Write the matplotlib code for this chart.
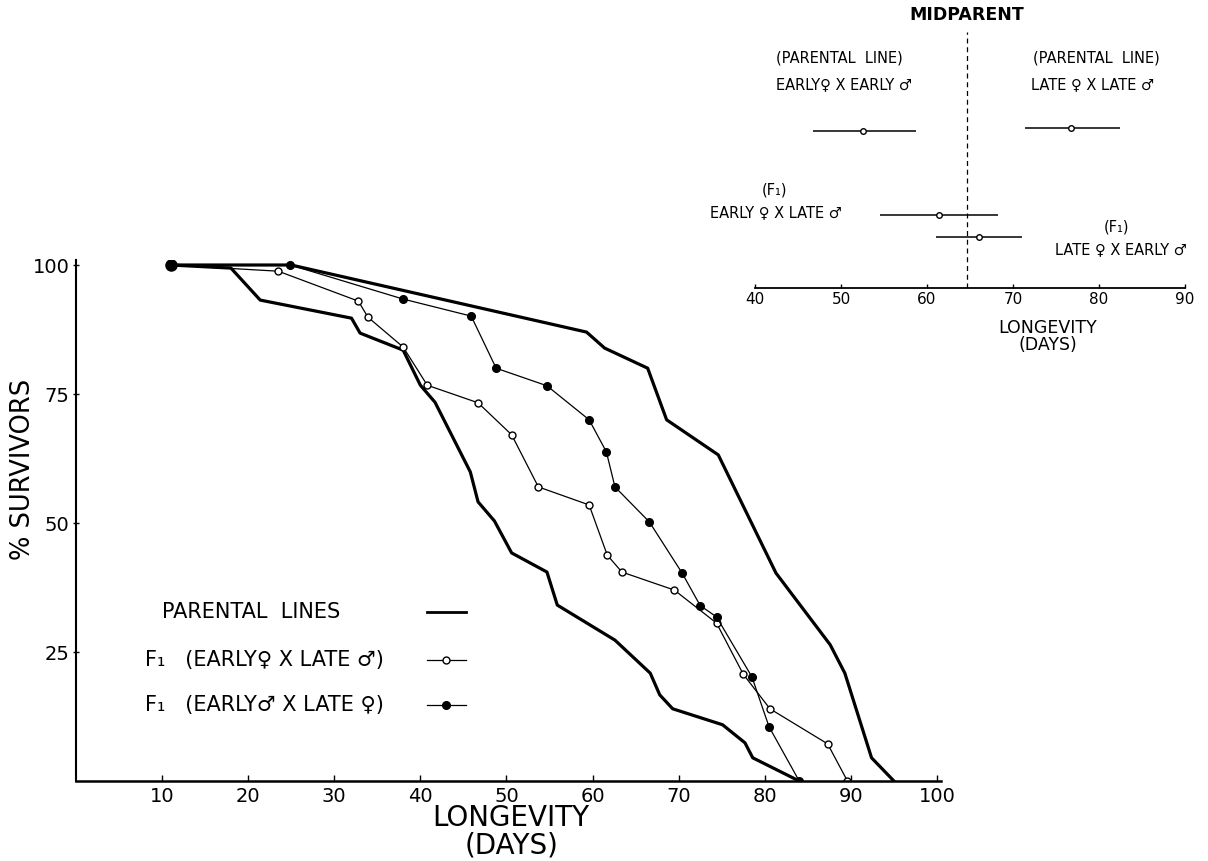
import matplotlib
matplotlib.use('Agg')
import matplotlib.pyplot as plt

plt.rcParams['font.family'] = ['DejaVu Sans']

# --- survival curves (longevity in days, % survivors) ---
early_days = [11, 18, 21.4, 32, 33, 38, 40, 41.7, 45.8, 46.7, 48.6, 50.6, 54.7, 55.9,
              62.6, 66.7, 67.8, 69.3, 75.1, 77.7, 78.6, 84]
early_surv = [100, 99.4, 93.2, 89.7, 86.8, 83.5, 76.7, 73.4, 59.9, 54.1, 50.4, 44.2, 40.5, 34.1,
              27.3, 20.9, 16.7, 14.0, 10.9, 7.4, 4.5, 0]

late_days = [11, 25, 59.3, 61.4, 66.4, 68.6, 74.6, 81.3, 87.6, 89.3, 92.4, 95]
late_surv = [100, 100, 87.0, 83.9, 80.0, 70.0, 63.2, 40.3, 26.4, 20.9, 4.5, 0]

# F1 (early female x late male), open circles
open_days = [11, 23.5, 32.8, 33.9, 38.0, 40.8, 46.7, 50.6, 53.7, 59.6, 61.7, 63.4,
             69.5, 74.4, 77.5, 80.6, 87.3, 89.6]
open_surv = [100, 98.8, 93.0, 89.9, 84.1, 76.7, 73.3, 67.1, 57.0, 53.5, 43.8, 40.5,
             37.0, 30.6, 20.7, 14.0, 7.2, 0]

# F1 (early male x late female), filled circles
filled_days = [11, 24.9, 38.0, 45.9, 48.8, 54.7, 59.6, 61.6, 62.6, 66.6, 70.4, 72.5,
               74.4, 78.5, 80.5, 84]
filled_surv = [100, 100, 93.4, 90.1, 80.0, 76.6, 70.0, 63.8, 57.0, 50.2, 40.3, 34.0,
               31.8, 20.2, 10.5, 0]

x_ticks = [10, 20, 30, 40, 50, 60, 70, 80, 90, 100]
y_ticks = [25, 50, 75, 100]

# --- inset: mean longevity with range ---
inset_means = [52.6, 76.7, 61.4, 66.0]
inset_low = [46.7, 71.4, 54.5, 61.0]
inset_high = [58.7, 82.4, 68.3, 71.0]
midparent = 64.6
inset_ticks = [40, 50, 60, 70, 80, 90]

# row heights of the inset bars (axes fraction)
inset_rows = [0.613, 0.625, 0.285, 0.199]

fig = plt.figure(figsize=(12.08, 8.61), dpi=100)
ax = fig.add_axes([0.0629, 0.0929, 0.7163, 0.6053])

ax.plot(early_days, early_surv, color='k', lw=2.3, solid_joinstyle='round')
ax.plot(late_days, late_surv, color='k', lw=2.3, solid_joinstyle='round')
ax.plot(open_days, open_surv, color='k', lw=0.9, marker='o', mfc='white', mec='k',
        ms=5, mew=1)
ax.plot(filled_days, filled_surv, color='k', lw=0.9, marker='o', mfc='k', mec='k', ms=5.5)
ax.plot(filled_days[0], filled_surv[0], 'o', color='k', ms=8)

ax.set_xlim(0, 100.5)
ax.set_ylim(0, 101)
ax.spines['top'].set_visible(False)
ax.spines['right'].set_visible(False)
ax.spines['left'].set_linewidth(1.5)
ax.spines['bottom'].set_linewidth(1.8)
ax.set_xticks(x_ticks)
ax.set_yticks(y_ticks)
ax.tick_params(axis='x', direction='in', length=4, width=1, labelsize=14, pad=4)
ax.tick_params(axis='y', direction='inout', length=5, width=1, labelsize=14, pad=2)

ax.set_xlabel('LONGEVITY\n(DAYS)', fontsize=20, linespacing=0.95)
ax.xaxis.set_label_coords(0.503, -0.045)
ax.set_ylabel('% SURVIVORS', fontsize=18.5)
ax.yaxis.set_label_coords(-0.046, 0.597)

# legend drawn by hand: text on the left, key to the right
leg_rows = [0.324, 0.232, 0.146]
ax.text(0.0994, leg_rows[0], 'PARENTAL  LINES', transform=ax.transAxes,
        fontsize=15, va='center')
ax.text(0.0798, leg_rows[1], 'F\u2081   (EARLY\u2640 X LATE \u2642)', transform=ax.transAxes,
        fontsize=15, va='center')
ax.text(0.0798, leg_rows[2], 'F\u2081   (EARLY\u2642 X LATE \u2640)', transform=ax.transAxes,
        fontsize=15, va='center')
ax.plot([0.406, 0.451], [leg_rows[0]] * 2, color='k', lw=2.0, transform=ax.transAxes,
        clip_on=False)
ax.plot([0.406, 0.451], [leg_rows[1]] * 2, color='k', lw=0.9, transform=ax.transAxes,
        clip_on=False)
ax.plot([0.428], [leg_rows[1]], 'o', mfc='white', mec='k', ms=5, mew=1,
        transform=ax.transAxes, clip_on=False)
ax.plot([0.406, 0.451], [leg_rows[2]] * 2, color='k', lw=0.9, transform=ax.transAxes,
        clip_on=False)
ax.plot([0.428], [leg_rows[2]], 'o', color='k', ms=5.5, transform=ax.transAxes,
        clip_on=False)

# --- inset ---
ax2 = fig.add_axes([0.625, 0.6655, 0.356, 0.2973])
ax2.set_xlim(40, 90)
ax2.set_ylim(0, 1)
for side in ['top', 'right', 'left']:
    ax2.spines[side].set_visible(False)
ax2.spines['bottom'].set_linewidth(1.3)
ax2.set_xticks(inset_ticks)
ax2.set_yticks([])
ax2.tick_params(axis='x', direction='in', length=3, width=1, labelsize=11, pad=3)
ax2.patch.set_alpha(0)

ax2.axvline(midparent, ymin=0, ymax=1, color='k', lw=0.9, ls=(0, (4, 3)))
ax2.hlines(inset_rows, inset_low, inset_high, color='k', lw=1.1)
ax2.plot(inset_means, inset_rows, 'o', mfc='white', mec='k', ms=4, mew=1, ls='none')

small = 10.5
ax2.text(midparent, 1.066, 'MIDPARENT', ha='center', va='center', fontsize=12.5,
         fontweight='bold', clip_on=False)
ax2.text(49.8, 0.898, '(PARENTAL  LINE)', ha='center', va='center', fontsize=small)
ax2.text(50.3, 0.793, 'EARLY\u2640 X EARLY \u2642', ha='center', va='center', fontsize=small)
ax2.text(79.7, 0.898, '(PARENTAL  LINE)', ha='center', va='center', fontsize=small)
ax2.text(79.2, 0.793, 'LATE \u2640 X LATE \u2642', ha='center', va='center', fontsize=small)
ax2.text(42.3, 0.383, '(F\u2081)', ha='center', va='center', fontsize=small)
ax2.text(42.4, 0.293, 'EARLY \u2640 X LATE \u2642', ha='center', va='center', fontsize=small,
         clip_on=False)
ax2.text(82.0, 0.238, '(F\u2081)', ha='center', va='center', fontsize=small)
ax2.text(82.6, 0.148, 'LATE \u2640 X EARLY \u2642', ha='center', va='center', fontsize=small,
         clip_on=False)

ax2.set_xlabel('LONGEVITY\n(DAYS)', fontsize=12.5, linespacing=0.95)
ax2.xaxis.set_label_coords(0.68, -0.12)

fig.savefig('out.png', dpi=100)
